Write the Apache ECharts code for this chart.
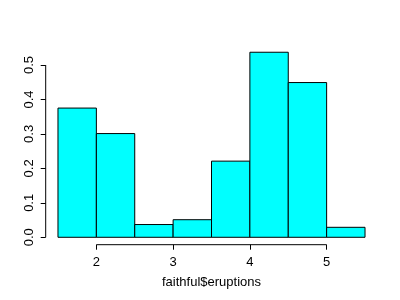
<!DOCTYPE html>
<html><head><meta charset="utf-8">
<script src="https://cdn.jsdelivr.net/npm/echarts@6/dist/echarts.min.js"></script>
<style>html,body{margin:0;padding:0;background:#fff}#c{width:400px;height:300px}</style>
</head><body><div id="c"></div>
<script>
const breaks = [1.5, 2, 2.5, 3, 3.5, 4, 4.5, 5, 5.5];
const density = [0.375, 0.301, 0.037, 0.051, 0.221, 0.537, 0.449, 0.029];
const xTicks = [2, 3, 4, 5];
const yTicks = [0, 0.1, 0.2, 0.3, 0.4, 0.5];
const xTitle = 'faithful$eruptions';

const xMin = 1.34, xMax = 5.66, yMin = -0.0215, yMax = 0.558;
const bars = density.map((d, i) => [breaks[i], breaks[i + 1], d]);
const font = 'Liberation Sans, Arial, sans-serif';

const chart = echarts.init(document.getElementById('c'), null, {renderer: 'canvas'});
chart.setOption({
  animation: false,
  grid: {left: 45.7, right: 22.7, top: 45, bottom: 55.3},
  xAxis: {
    type: 'value', min: xMin, max: xMax,
    axisLine: {show: false, onZero: false}, splitLine: {show: false},
    axisTick: {show: true, length: 5, customValues: xTicks, lineStyle: {color: '#000'}},
    axisLabel: {customValues: xTicks, margin: 11, color: '#000', fontSize: 13, fontFamily: font},
    name: xTitle, nameLocation: 'middle', nameGap: 31.5,
    nameTextStyle: {color: '#000', fontSize: 13, fontFamily: font}
  },
  yAxis: {
    type: 'value', min: yMin, max: yMax,
    axisLine: {show: false, onZero: false}, splitLine: {show: false},
    axisTick: {show: true, length: 5, customValues: yTicks, lineStyle: {color: '#000'}},
    axisLabel: {customValues: yTicks, rotate: 90, margin: 10, color: '#000', fontSize: 13, fontFamily: font,
      formatter: v => v.toFixed(1)}
  },
  series: [
    {
      type: 'custom', data: bars, encode: {x: [0, 1], y: 2},
      renderItem: (params, api) => {
        const p0 = api.coord([api.value(0), api.value(2)]);
        const p1 = api.coord([api.value(1), 0]);
        return {type: 'rect', shape: {x: p0[0], y: p0[1], width: p1[0] - p0[0], height: p1[1] - p0[1]},
          style: {fill: '#00ffff', stroke: '#000', lineWidth: 1}};
      }
    },
    {type: 'line', data: [[xTicks[0], yMin], [xTicks[xTicks.length - 1], yMin]], symbol: 'none', clip: false,
      lineStyle: {color: '#000', width: 1}, silent: true},
    {type: 'line', data: [[xMin, yTicks[0]], [xMin, yTicks[yTicks.length - 1]]], symbol: 'none', clip: false,
      lineStyle: {color: '#000', width: 1}, silent: true}
  ]
});
</script></body></html>
